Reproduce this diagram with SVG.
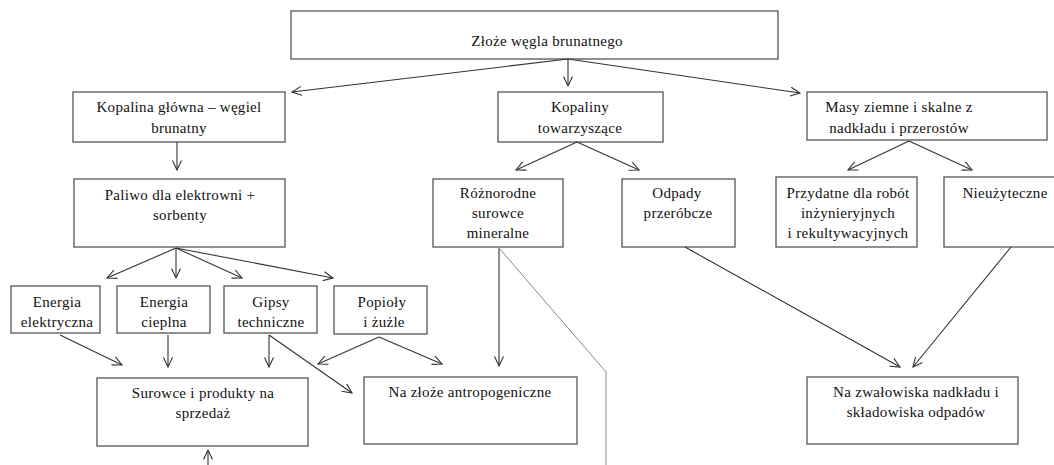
<svg xmlns="http://www.w3.org/2000/svg" width="1054" height="465" viewBox="0 0 1054 465">
<style>
.box{fill:#fff;stroke:#555;stroke-width:1.3}
.t{font-family:"Liberation Serif","Times New Roman",serif;font-size:15px;letter-spacing:0.3px;fill:#111;text-anchor:middle}
.c{stroke:#333;stroke-width:1.1;fill:none;marker-end:url(#ah)}
.g{stroke:#888;stroke-width:1;fill:none}
</style>
<defs>
<marker id="ah" markerWidth="12" markerHeight="12" refX="10" refY="5" orient="auto" markerUnits="userSpaceOnUse">
<path d="M0.5,0.5 L10,5 L0.5,9.5" fill="none" stroke="#333" stroke-width="1.1"/>
</marker>
</defs>
<rect width="1054" height="465" fill="#fff"/>
<g id="n-zloze"><rect class="box" x="291" y="11" width="487" height="48"/><text class="t" x="547" y="46">Złoże węgla brunatnego</text></g>
<g id="n-kopalina"><rect class="box" x="73" y="92" width="212" height="50"/><text class="t" x="179" y="112">Kopalina główna – węgiel</text><text class="t" x="179" y="133">brunatny</text></g>
<g id="n-paliwo"><rect class="box" x="74" y="179" width="211" height="68"/><text class="t" x="180" y="200">Paliwo dla elektrowni +</text><text class="t" x="180" y="220">sorbenty</text></g>
<g id="n-ee"><rect class="box" x="11" y="286" width="89" height="47"/><text class="t" x="57" y="307">Energia</text><text class="t" x="57" y="327" letter-spacing="0">elektryczna</text></g>
<g id="n-ec"><rect class="box" x="117" y="286" width="93" height="47"/><text class="t" x="164" y="307">Energia</text><text class="t" x="164" y="327">cieplna</text></g>
<g id="n-gipsy"><rect class="box" x="224" y="286" width="93" height="47"/><text class="t" x="271" y="307">Gipsy</text><text class="t" x="271" y="327">techniczne</text></g>
<g id="n-popioly"><rect class="box" x="334" y="286" width="93" height="48"/><text class="t" x="382" y="307">Popioły</text><text class="t" x="384" y="327">i żużle</text></g>
<g id="n-surowce"><rect class="box" x="97" y="378" width="211" height="68"/><text class="t" x="203" y="398">Surowce i produkty na</text><text class="t" x="203" y="418">sprzedaż</text></g>
<g id="n-antro"><rect class="box" x="364" y="377" width="213" height="67"/><text class="t" x="470" y="397">Na złoże antropogeniczne</text></g>
<g id="n-towarz"><rect class="box" x="498" y="92" width="165" height="50"/><text class="t" x="580" y="112">Kopaliny</text><text class="t" x="580" y="133">towarzyszące</text></g>
<g id="n-rozn"><rect class="box" x="433" y="179" width="130" height="68"/><text class="t" x="498" y="198">Różnorodne</text><text class="t" x="498" y="218">surowce</text><text class="t" x="498" y="238">mineralne</text></g>
<g id="n-odpady"><rect class="box" x="622" y="179" width="113" height="68"/><text class="t" x="677" y="198">Odpady</text><text class="t" x="678" y="218">przeróbcze</text></g>
<g id="n-masy"><rect class="box" x="807" y="92" width="240" height="48"/><text class="t" x="899" y="112">Masy ziemne i skalne z</text><text class="t" x="899" y="133">nadkładu i przerostów</text></g>
<g id="n-przyd"><rect class="box" x="776" y="177" width="141" height="70"/><text class="t" x="848" y="198">Przydatne dla robót</text><text class="t" x="848" y="218">inżynieryjnych</text><text class="t" x="848" y="238">i rekultywacyjnych</text></g>
<g id="n-nieuz"><rect class="box" x="944" y="177" width="120" height="70"/><text class="t" x="1005" y="198">Nieużyteczne</text></g>
<g id="n-zwal"><rect class="box" x="807" y="377" width="211" height="67"/><text class="t" x="916" y="397">Na zwałowiska nadkładu i</text><text class="t" x="916" y="417">składowiska odpadów</text></g>
<g id="connectors">
<path class="c" d="M568,59 L292,92"/>
<path class="c" d="M568,59 L568,86"/>
<path class="c" d="M568,59 L800,93"/>
<path class="c" d="M177,142 L177,170"/>
<path class="c" d="M176,248 L107,278"/>
<path class="c" d="M176,248 L176,278"/>
<path class="c" d="M176,248 L242,278"/>
<path class="c" d="M176,248 L333,278"/>
<path class="c" d="M60,335 L122,365"/>
<path class="c" d="M168,335 L168,367"/>
<path class="c" d="M269,335 L269,367"/>
<path class="c" d="M269,335 L352,393"/>
<path class="c" d="M379,337 L318,364"/>
<path class="c" d="M379,337 L442,364"/>
<path class="c" d="M577,142 L516,170"/>
<path class="c" d="M577,142 L639,170"/>
<path class="c" d="M499,248 L499,366"/>
<path class="g" d="M499,248 L606,372 L606,465"/>
<path class="c" d="M909,141 L848,170"/>
<path class="c" d="M909,141 L972,170"/>
<path class="c" d="M685,247 L900,367"/>
<path class="c" d="M1011,247 L913,367"/>
<path class="c" d="M208,465 L208,450"/>
</g>
</svg>
